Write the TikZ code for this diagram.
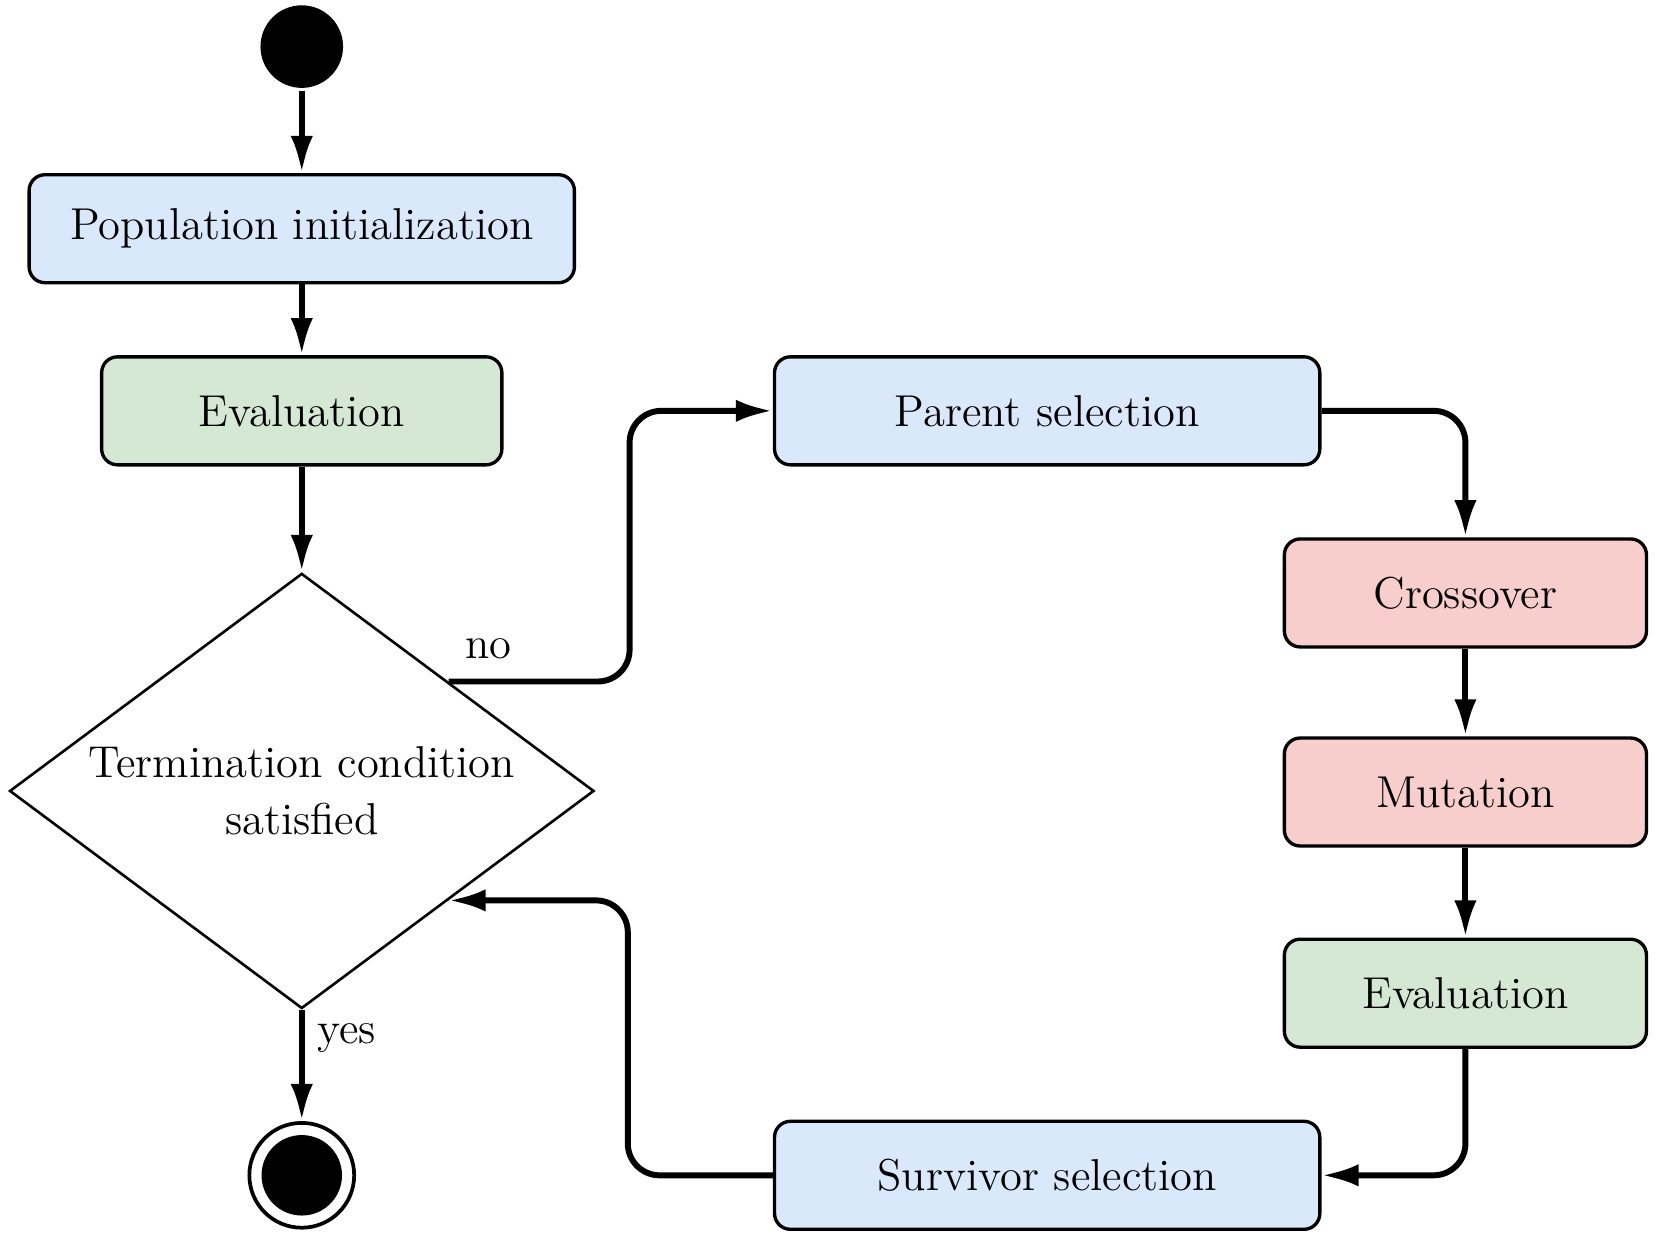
\documentclass[tikz,border=0pt]{standalone}
\usepackage{tikz}
\usetikzlibrary{positioning}
\usetikzlibrary{shapes.geometric, arrows.meta}

\definecolor{boxblue}{HTML}{DAE8FC}
\definecolor{boxgreen}{HTML}{D5E8D4}
\definecolor{boxred}{HTML}{F8CECC}

\begin{document}
\begin{tikzpicture}[->,>={Latex[length=3.5mm,width=2.1mm]},auto,on grid,
                line width=1.6pt,font=\fontsize{12}{15.2}\selectfont,
                flow node/.style={rectangle,rounded corners=0.15cm,draw,line width=0.9pt,minimum height=1.02cm},
                blue node/.style={flow node,fill=boxblue,minimum width=5.15cm},
                green node/.style={flow node,fill=boxgreen},
                red node/.style={flow node,fill=boxred,minimum width=3.42cm},
                test node/.style={diamond,draw,line width=0.7pt,aspect=1.34,inner sep=1pt,
                                  minimum width=5.52cm,minimum height=4.11cm,align=center},
                start node/.style={circle,fill=black,minimum size=0.78cm},
                final node/.style={circle,draw,line width=1pt,minimum size=0.99cm,
                                   path picture={\fill (path picture bounding box.center) circle (0.38cm);}}]

  \useasboundingbox (0,0) rectangle (15.64,-11.673);

  % left column
  \node[start node] (start) at (2.85,-0.44) {};
  \node[blue node] (init) [below=1.72cm of start] {Population initialization};
  \node[green node,minimum width=3.78cm] (eval1) [below=1.72cm of init] {Evaluation};
  \node[test node] (term) [below=3.59cm of eval1] {Termination condition\\satisfied};
  \node[final node] (final) [below=3.63cm of term] {};

  % right loop
  \node[blue node] (parent) [right=7.04cm of eval1] {Parent selection};
  \node[red node] (cross) [below right=1.72cm and 3.95cm of parent] {Crossover};
  \node[red node] (mut) [below=1.88cm of cross] {Mutation};
  \node[green node,minimum width=3.42cm] (eval2) [below=1.90cm of mut] {Evaluation};
  \node[blue node] (surv) [right=7.04cm of final] {Survivor selection};

  \path
    (start) edge (init)
    (init) edge (eval1)
    (eval1) edge (term)
    (term) edge node[right,pos=0.25] {yes} (final)
    (cross) edge (mut)
    (mut) edge (eval2);

  \draw[rounded corners=0.3cm] (term.north east) -- ++(1.71,0) node[above=2pt,pos=0.22] {no} |- (parent.west);
  \draw[rounded corners=0.3cm] (parent.east) -| (cross.north);
  \draw[rounded corners=0.3cm] (eval2.south) |- (surv.east);
  \draw[rounded corners=0.3cm] (surv.west) -- ++(-1.37,0) |- (term.south east);
\end{tikzpicture}
\end{document}
